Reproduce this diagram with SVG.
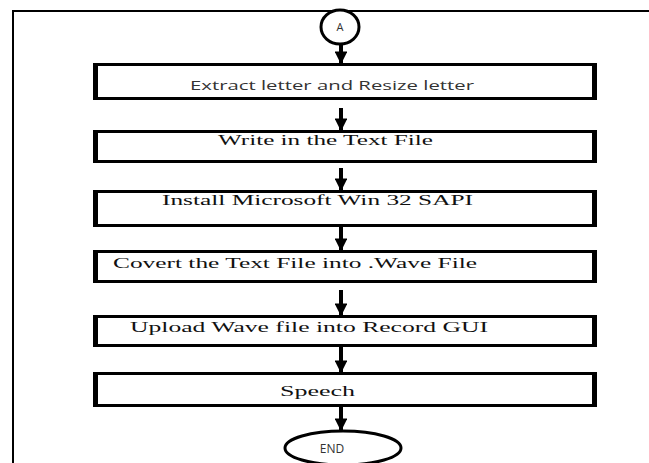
<svg xmlns="http://www.w3.org/2000/svg" width="649" height="463" viewBox="0 0 649 463">
  <style>
    .frame { fill: none; stroke: #000; stroke-width: 2; }
    .box rect { fill: #fff; stroke: #000; stroke-width: 3; }
    .box line { stroke: #000; stroke-width: 5; }
    .term { fill: #fff; stroke: #000; stroke-width: 3; }
    .sans { fill: #333; }
    .serif { fill: #111; font-size: 15px; }
    .conn line { stroke: #000; stroke-width: 4; }
  </style>
  <defs>
    <marker id="head" viewBox="0 0 10 10" refX="9" refY="5" markerWidth="3.2" markerHeight="3.2" orient="auto" markerUnits="strokeWidth">
      <path d="M0,0 L10,5 L0,10 Z" fill="#000"/>
    </marker>
  </defs>
  <rect width="649" height="463" fill="#fff"/>
  <path class="frame" d="M13,463 V11 H649"/>

  <g id="connectors" class="conn">
    <line x1="341" y1="45" x2="341" y2="63" marker-end="url(#head)"/>
    <line x1="341" y1="108" x2="341" y2="130" marker-end="url(#head)"/>
    <line x1="341" y1="168" x2="341" y2="190" marker-end="url(#head)"/>
    <line x1="341" y1="227" x2="341" y2="250" marker-end="url(#head)"/>
    <line x1="341" y1="290" x2="341" y2="315" marker-end="url(#head)"/>
    <line x1="341" y1="347" x2="341" y2="372" marker-end="url(#head)"/>
    <line x1="341" y1="407" x2="341" y2="430" marker-end="url(#head)"/>
  </g>

  <g id="start">
    <ellipse class="term" cx="340" cy="27" rx="19" ry="17"/>
    <text class="sans" x="340" y="31" font-family="Open Sans, Liberation Sans, sans-serif" font-size="11" text-anchor="middle">A</text>
  </g>

  <g id="step1" class="box">
    <rect x="95" y="64.5" width="500" height="34"/>
    <line x1="95.5" y1="63" x2="95.5" y2="100"/>
    <line x1="594.5" y1="63" x2="594.5" y2="100"/>
    <text class="sans" x="190" y="90" font-family="Open Sans, Liberation Sans, sans-serif" font-size="12.5" textLength="284" lengthAdjust="spacingAndGlyphs">Extract letter and Resize letter</text>
  </g>

  <g id="step2" class="box">
    <rect x="95" y="131.5" width="500" height="30"/>
    <line x1="95.5" y1="130" x2="95.5" y2="163"/>
    <line x1="594.5" y1="130" x2="594.5" y2="163"/>
    <text class="serif" x="218" y="145" font-family="Liberation Serif, Times New Roman, serif" textLength="215" lengthAdjust="spacingAndGlyphs">Write in the Text File</text>
  </g>

  <g id="step3" class="box">
    <rect x="95" y="191.5" width="500" height="34"/>
    <line x1="95.5" y1="190" x2="95.5" y2="227"/>
    <line x1="594.5" y1="190" x2="594.5" y2="227"/>
    <text class="serif" x="162" y="205" font-family="Liberation Serif, Times New Roman, serif" textLength="311" lengthAdjust="spacingAndGlyphs">Install Microsoft Win 32 SAPI</text>
  </g>

  <g id="step4" class="box">
    <rect x="95" y="251.5" width="500" height="30"/>
    <line x1="95.5" y1="250" x2="95.5" y2="283"/>
    <line x1="594.5" y1="250" x2="594.5" y2="283"/>
    <text class="serif" x="113" y="268" font-family="Liberation Serif, Times New Roman, serif" textLength="364" lengthAdjust="spacingAndGlyphs">Covert the Text File into .Wave File</text>
  </g>

  <g id="step5" class="box">
    <rect x="95" y="316.5" width="500" height="29"/>
    <line x1="95.5" y1="315" x2="95.5" y2="347"/>
    <line x1="594.5" y1="315" x2="594.5" y2="347"/>
    <text class="serif" x="130" y="332" font-family="Liberation Serif, Times New Roman, serif" textLength="358" lengthAdjust="spacingAndGlyphs">Upload Wave file into Record GUI</text>
  </g>

  <g id="step6" class="box">
    <rect x="95" y="373.5" width="500" height="32"/>
    <line x1="95.5" y1="372" x2="95.5" y2="407"/>
    <line x1="594.5" y1="372" x2="594.5" y2="407"/>
    <text class="serif" x="280" y="396" font-family="Liberation Serif, Times New Roman, serif" textLength="75" lengthAdjust="spacingAndGlyphs">Speech</text>
  </g>

  <g id="end">
    <ellipse class="term" cx="343" cy="448" rx="58" ry="17"/>
    <text class="sans" x="332" y="453" font-family="Open Sans, Liberation Sans, sans-serif" font-size="12" text-anchor="middle">END</text>
  </g>
</svg>
